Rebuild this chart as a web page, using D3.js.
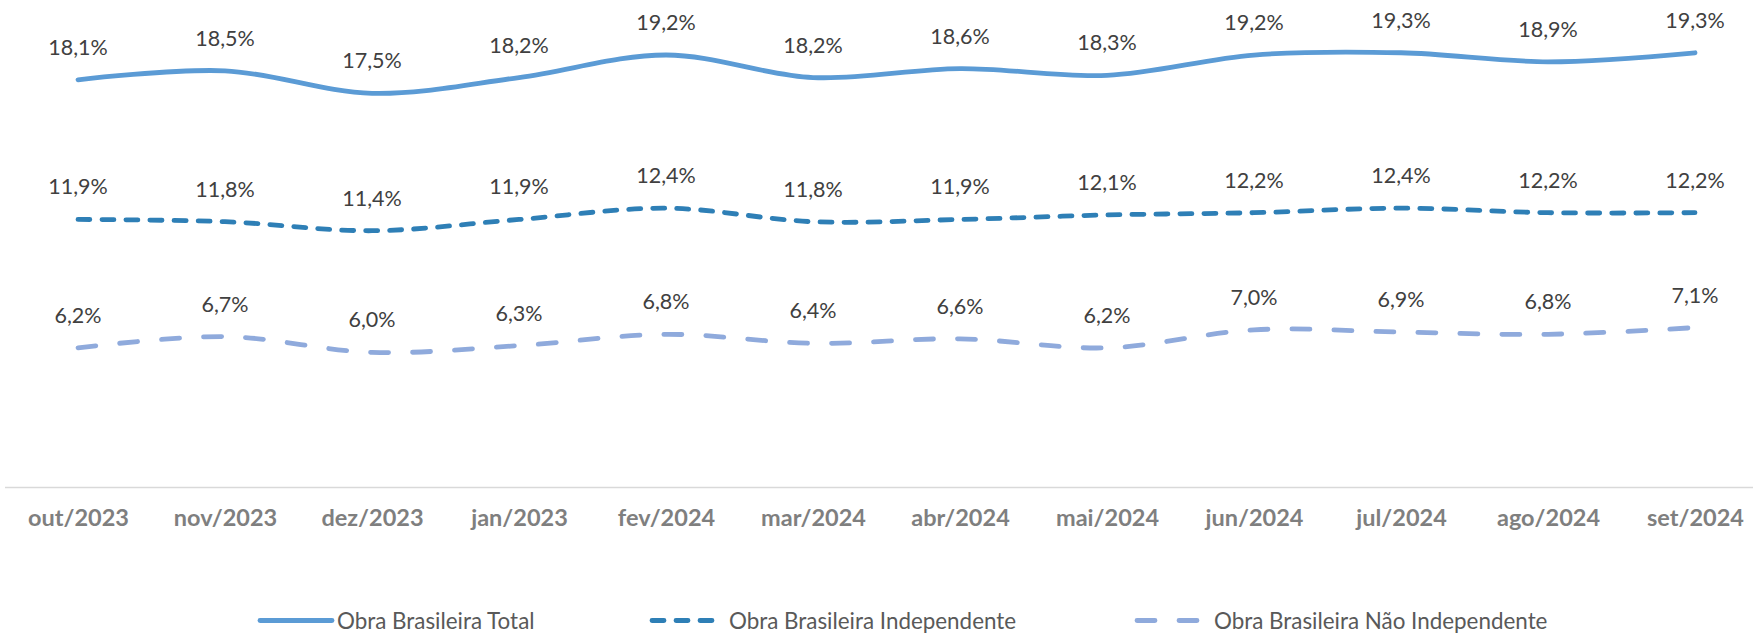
<!DOCTYPE html>
<html>
<head>
<meta charset="utf-8">
<script src="https://cdn.jsdelivr.net/npm/d3@7"></script>
<style>
  html, body { margin: 0; padding: 0; background: #ffffff; }
  svg { display: block; }
</style>
</head>
<body>
<svg id="chart" width="1753" height="634"></svg>
<script>
// ---- Data ----
const categories = ["out/2023", "nov/2023", "dez/2023", "jan/2023", "fev/2024", "mar/2024",
                    "abr/2024", "mai/2024", "jun/2024", "jul/2024", "ago/2024", "set/2024"];
const seriesNames = ["Obra Brasileira Total", "Obra Brasileira Independente", "Obra Brasileira Não Independente"];
const totalValues = [18.1, 18.5, 17.5, 18.2, 19.2, 18.2, 18.6, 18.3, 19.2, 19.3, 18.9, 19.3];
const independenteValues = [11.9, 11.8, 11.4, 11.9, 12.4, 11.8, 11.9, 12.1, 12.2, 12.4, 12.2, 12.2];
const naoIndependenteValues = [6.2, 6.7, 6.0, 6.3, 6.8, 6.4, 6.6, 6.2, 7.0, 6.9, 6.8, 7.1];
const yDomain = [0, 20];

// ---- Styles ----
const styles = [
  { color: "#5b9bd5", dash: null },
  { color: "#2e7fb6", dash: "12,12" },
  { color: "#8faadc", dash: "18,24" }
];
const seriesValues = [totalValues, independenteValues, naoIndependenteValues];

const svg = d3.select("#chart");
const W = 1753, H = 634;
svg.append("rect").attr("width", W).attr("height", H).attr("fill", "#ffffff");

const x = d3.scalePoint().domain(categories).range([78, 1695]);
const y = d3.scaleLinear().domain(yDomain).range([487.5, 37]);

// Axis line + category labels
const xAxis = d3.axisBottom(x).tickSize(0).tickPadding(0);
const gx = svg.append("g").attr("transform", `translate(0,${y(0)})`).call(xAxis);
gx.select(".domain").remove();
gx.append("line").attr("x1", 5).attr("x2", W).attr("y1", 0).attr("y2", 0)
  .attr("stroke", "#d9d9d9").attr("stroke-width", 1.5);
gx.selectAll(".tick text")
  .attr("y", 38)
  .attr("dy", 0)
  .attr("fill", "#7f7f7f")
  .style("font-family", "Lato, 'Open Sans', sans-serif")
  .style("font-weight", "bold")
  .style("font-size", "23.5px");

const line = d3.line()
  .x((d, i) => x(categories[i]))
  .y(d => y(d))
  .curve(d3.curveCardinal.tension(0));

const fmt = v => v.toFixed(1).replace(".", ",") + "%";

seriesValues.forEach((vals, si) => {
  const st = styles[si];
  svg.append("path")
    .datum(vals)
    .attr("d", line)
    .attr("fill", "none")
    .attr("stroke", st.color)
    .attr("stroke-width", 4.8)
    .attr("stroke-linecap", "round")
    .attr("stroke-linejoin", "round")
    .attr("stroke-dasharray", st.dash);

  svg.append("g").selectAll("text")
    .data(vals)
    .join("text")
    .attr("x", (d, i) => x(categories[i]))
    .attr("y", d => y(d) - 25)
    .attr("text-anchor", "middle")
    .attr("fill", "#404040")
    .style("font-family", "Lato, 'Open Sans', sans-serif")
    .style("font-size", "21.5px")
    .text(d => fmt(d));
});

// Legend
const legendStarts = [260, 652, 1137];
const legendY = 620.5;
const lg = svg.append("g");
seriesNames.forEach((name, si) => {
  const st = styles[si];
  const g = lg.append("g").attr("transform", `translate(${legendStarts[si]},${legendY})`);
  g.append("line")
    .attr("x1", 0).attr("x2", 72).attr("y1", 0).attr("y2", 0)
    .attr("stroke", st.color)
    .attr("stroke-width", 4.8)
    .attr("stroke-linecap", "round")
    .attr("stroke-dasharray", st.dash);
  g.append("text")
    .attr("x", 77)
    .attr("y", 8)
    .attr("fill", "#595959")
    .style("font-family", "Lato, 'Open Sans', sans-serif")
    .style("font-size", "22.4px")
    .text(name);
});
</script>
</body>
</html>
